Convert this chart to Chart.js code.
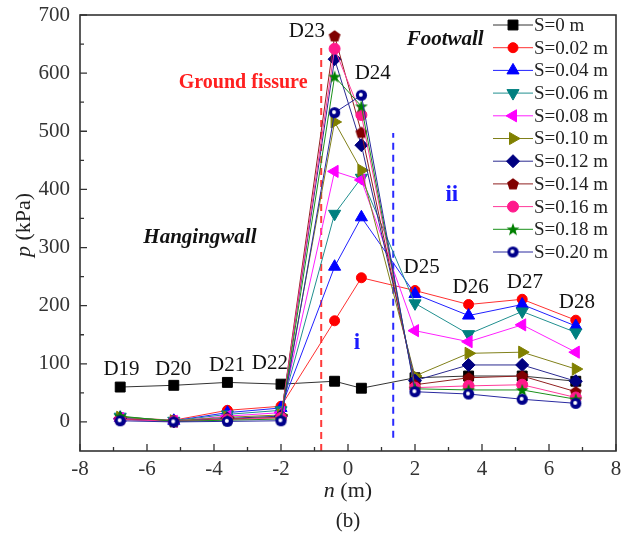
<!DOCTYPE html>
<html>
<head>
<meta charset="utf-8">
<script src="https://cdn.jsdelivr.net/npm/chart.js@4.4.1/dist/chart.umd.min.js"></script>
<style>
  html, body { margin: 0; padding: 0; background: #fff; }
  #wrap { width: 630px; height: 534px; }
</style>
</head>
<body>
<div id="wrap"><canvas id="chart" width="630" height="534"></canvas></div>
<script>
// measuring points and their distance to the fissure (m)
const positions = [-6.8, -5.2, -3.6, -2.0, -0.4, 0.4, 2.0, 3.6, 5.2, 6.8];
const pointNames = ['D19', 'D20', 'D21', 'D22', 'D23', 'D24', 'D25', 'D26', 'D27', 'D28'];
const settlements = ['S=0 m', 'S=0.02 m', 'S=0.04 m', 'S=0.06 m', 'S=0.08 m', 'S=0.10 m',
  'S=0.12 m', 'S=0.14 m', 'S=0.16 m', 'S=0.18 m', 'S=0.20 m'];

// earth pressure p (kPa)
const s000 = [60, 63, 68, 65, 70, 58, 76, 79, 79, 70];
const s002 = [8, 3, 20, 27, 174, 248, 226, 202, 211, 175];
const s004 = [7, 2, 16, 24, 267, 352, 220, 183, 202, 165];
const s006 = [9, 2, 13, 20, 358, 420, 204, 151, 190, 154];
const s008 = [6, 1, 10, 16, 431, 416, 157, 138, 167, 120];
const s010 = [8, 2, 8, 12, 516, 433, 79, 118, 120, 91];
const s012 = [5, 1, 6, 10, 624, 476, 71, 98, 98, 70];
const s014 = [5, 1, 5, 8, 664, 498, 64, 76, 79, 52];
const s016 = [4, 1, 4, 7, 642, 528, 59, 62, 64, 42];
const s018 = [10, 1, 3, 5, 594, 543, 57, 55, 55, 39];
const s020 = [2, 0, 1, 2, 532, 562, 52, 48, 39, 32];
const series = [s000, s002, s004, s006, s008, s010, s012, s014, s016, s018, s020];

// ground fissure and zone boundary (n, p range)
const fissureX = -0.8, fissureRange = [-50, 645];
const boundaryX = 1.35, boundaryRange = [-27, 497];

const xTicks = [-8, -6, -4, -2, 0, 2, 4, 6, 8];
const yTicks = [0, 100, 200, 300, 400, 500, 600, 700];

const serif = "'Liberation Serif', 'DejaVu Serif', serif";

// custom markers
function marker(size, draw) {
  const c = document.createElement('canvas');
  c.width = c.height = size;
  draw(c.getContext('2d'), size / 2);
  return c;
}
const pentagon = marker(14, (g, c) => {
  g.fillStyle = '#800000';
  g.beginPath();
  for (let k = 0; k < 5; k++) {
    const a = -Math.PI / 2 + k * 2 * Math.PI / 5;
    g.lineTo(c + 6.2 * Math.cos(a), c + 6.2 * Math.sin(a) + 0.5);
  }
  g.closePath();
  g.fill();
});
const star = marker(14, (g, c) => {
  g.fillStyle = '#008000';
  g.beginPath();
  for (let k = 0; k < 10; k++) {
    const a = -Math.PI / 2 + k * Math.PI / 5;
    const r = k % 2 ? 2.8 : 6.8;
    g.lineTo(c + r * Math.cos(a), c + r * Math.sin(a) + 0.5);
  }
  g.closePath();
  g.fill();
});
const ball = marker(13, (g, c) => {
  g.fillStyle = '#00008b';
  g.beginPath(); g.arc(c, c, 5.6, 0, Math.PI * 2); g.fill();
  g.fillStyle = '#fff';
  g.beginPath(); g.arc(c - 0.6, c - 0.6, 2, 0, Math.PI * 2); g.fill();
});

const styles = [
  { line: '#333333', fill: '#000000', style: 'rect', r: 7, rot: 0 },
  { line: '#ff3030', fill: '#ff0000', style: 'circle', r: 5, rot: 0 },
  { line: '#2020ff', fill: '#0000ff', style: 'triangle', r: 7, rot: 0 },
  { line: '#208f8f', fill: '#008080', style: 'triangle', r: 7, rot: 180 },
  { line: '#ff20ff', fill: '#ff00ff', style: 'triangle', r: 7, rot: 270 },
  { line: '#80801a', fill: '#808000', style: 'triangle', r: 7, rot: 90 },
  { line: '#2a2a90', fill: '#000080', style: 'rectRot', r: 6.5, rot: 0 },
  { line: '#902020', fill: '#800000', style: pentagon, r: 6, rot: 0 },
  { line: '#ff3a9a', fill: '#ff1a8c', style: 'circle', r: 5.5, rot: 0 },
  { line: '#1a901a', fill: '#008000', style: star, r: 6, rot: 0 },
  { line: '#2a2aa0', fill: '#00008b', style: ball, r: 6, rot: 0 }
];

const datasets = series.map((vals, i) => ({
  label: settlements[i],
  data: positions.map((x, k) => ({ x: x, y: vals[k] })),
  borderColor: styles[i].line,
  backgroundColor: styles[i].fill,
  pointBorderColor: styles[i].fill,
  pointBackgroundColor: styles[i].fill,
  pointStyle: styles[i].style,
  pointRadius: styles[i].r,
  pointRotation: styles[i].rot,
  pointBorderWidth: 1,
  borderWidth: 1,
  tension: 0,
  order: 20 - i,
  inLegend: true
}));

datasets.push({
  label: 'fissure',
  data: fissureRange.map(v => ({ x: fissureX, y: v })),
  borderColor: '#ff3b3b', borderWidth: 2, borderDash: [7, 5], pointRadius: 0, order: 50
});
datasets.push({
  label: 'boundary',
  data: boundaryRange.map(v => ({ x: boundaryX, y: v })),
  borderColor: '#2a2aff', borderWidth: 2, borderDash: [7, 5], pointRadius: 0, order: 50
});

// annotations in data coordinates
const labels = [
  { t: 'D19', x: -6.76, y: 90 }, { t: 'D20', x: -5.22, y: 90 },
  { t: 'D21', x: -3.61, y: 97 }, { t: 'D22', x: -2.33, y: 100 },
  { t: 'D23', x: -1.23, y: 671 }, { t: 'D24', x: 0.74, y: 600 },
  { t: 'D25', x: 2.2, y: 266 }, { t: 'D26', x: 3.66, y: 231 },
  { t: 'D27', x: 5.28, y: 240 }, { t: 'D28', x: 6.83, y: 206 }
];
const notes = [
  { t: 'Ground fissure', x: -3.13, y: 584, font: 'bold 20px ' + serif, color: '#ff2020' },
  { t: 'Footwall', x: 2.9, y: 657, font: 'italic bold 21px ' + serif, color: '#111' },
  { t: 'Hangingwall', x: -4.42, y: 317, font: 'italic bold 21px ' + serif, color: '#111' },
  { t: 'i', x: 0.27, y: 136, font: 'bold 23px ' + serif, color: '#1a1aff' },
  { t: 'ii', x: 3.1, y: 390, font: 'bold 23px ' + serif, color: '#1a1aff' }
];

const decorations = {
  id: 'decorations',
  afterDraw(chart) {
    const { ctx, chartArea: a, scales: { x, y } } = chart;
    ctx.save();

    // frame
    ctx.strokeStyle = '#333';
    ctx.lineWidth = 1.6;
    ctx.strokeRect(a.left, a.top, a.right - a.left, a.bottom - a.top);

    // inward ticks
    ctx.lineWidth = 1.3;
    ctx.beginPath();
    xTicks.forEach((v, k) => {
      const px = x.getPixelForValue(v);
      ctx.moveTo(px, a.bottom); ctx.lineTo(px, a.bottom - 7);
      if (k < xTicks.length - 1) {
        const pm = x.getPixelForValue((v + xTicks[k + 1]) / 2);
        ctx.moveTo(pm, a.bottom); ctx.lineTo(pm, a.bottom - 4);
      }
    });
    yTicks.forEach((v, k) => {
      const py = y.getPixelForValue(v);
      ctx.moveTo(a.left, py); ctx.lineTo(a.left + 7, py);
      if (k < yTicks.length - 1) {
        const pm = y.getPixelForValue((v + yTicks[k + 1]) / 2);
        ctx.moveTo(a.left, pm); ctx.lineTo(a.left + 4, pm);
      }
    });
    ctx.stroke();

    // point names and notes
    ctx.textAlign = 'center';
    ctx.textBaseline = 'middle';
    ctx.fillStyle = '#111';
    ctx.font = '21px ' + serif;
    labels.forEach(l => ctx.fillText(l.t, x.getPixelForValue(l.x), y.getPixelForValue(l.y)));
    notes.forEach(n => {
      ctx.font = n.font;
      ctx.fillStyle = n.color;
      ctx.fillText(n.t, x.getPixelForValue(n.x), y.getPixelForValue(n.y));
    });

    // legend
    const rowH = 22.7, top = a.top + 10, lx = a.right - 123;
    chart.data.datasets.filter(d => d.inLegend).forEach((d, k) => {
      const ry = top + k * rowH;
      ctx.strokeStyle = d.borderColor;
      ctx.lineWidth = 1;
      ctx.beginPath(); ctx.moveTo(lx, ry); ctx.lineTo(lx + 40, ry); ctx.stroke();
      ctx.fillStyle = d.pointBackgroundColor;
      ctx.strokeStyle = d.pointBorderColor;
      Chart.helpers.drawPoint(ctx, {
        pointStyle: d.pointStyle, rotation: d.pointRotation,
        radius: d.pointRadius, borderWidth: 1
      }, lx + 20, ry);
      ctx.fillStyle = '#222';
      ctx.font = '19px ' + serif;
      ctx.textAlign = 'left';
      ctx.fillText(d.label, lx + 41, ry + 1);
    });

    // axis titles with italic symbols
    function mixed(parts, cx, cy) {
      let w = 0;
      parts.forEach(p => { ctx.font = p.f; w += ctx.measureText(p.t).width; });
      let sx = cx - w / 2;
      ctx.textAlign = 'left';
      parts.forEach(p => { ctx.font = p.f; ctx.fillText(p.t, sx, cy); sx += ctx.measureText(p.t).width; });
    }
    ctx.fillStyle = '#222';
    mixed([{ t: 'n', f: 'italic 22px ' + serif }, { t: ' (m)', f: '22px ' + serif }], (a.left + a.right) / 2, 491);
    mixed([{ t: '(b)', f: '21px ' + serif }], (a.left + a.right) / 2, 521);
    ctx.save();
    ctx.translate(24, (a.top + a.bottom) / 2 - 8);
    ctx.rotate(-Math.PI / 2);
    mixed([{ t: 'p', f: 'italic 22px ' + serif }, { t: ' (kPa)', f: '22px ' + serif }], 0, 0);
    ctx.restore();

    ctx.restore();
  }
};

new Chart(document.getElementById('chart'), {
  type: 'line',
  data: { datasets: datasets },
  options: {
    responsive: false,
    animation: false,
    layout: { padding: { left: 0, right: 14, top: 15, bottom: 0 } },
    plugins: { legend: { display: false }, tooltip: { enabled: false } },
    scales: {
      x: {
        type: 'linear', min: -8, max: 8,
        grid: { display: false, drawTicks: false, tickLength: 0 },
        border: { display: false },
        ticks: { font: { family: serif, size: 21 }, color: '#333', padding: 6, maxRotation: 0 },
        afterBuildTicks: s => { s.ticks = xTicks.map(v => ({ value: v })); },
        afterFit: s => { s.height = 83; s.paddingLeft = 0; s.paddingRight = 0; }
      },
      y: {
        type: 'linear', min: -50, max: 700,
        grid: { display: false, drawTicks: false, tickLength: 0 },
        border: { display: false },
        ticks: { font: { family: serif, size: 21 }, color: '#333', padding: 10 },
        afterBuildTicks: s => { s.ticks = yTicks.map(v => ({ value: v })); },
        afterFit: s => { s.width = 80; s.paddingTop = 0; s.paddingBottom = 0; }
      }
    }
  },
  plugins: [decorations]
});
</script>
</body>
</html>
